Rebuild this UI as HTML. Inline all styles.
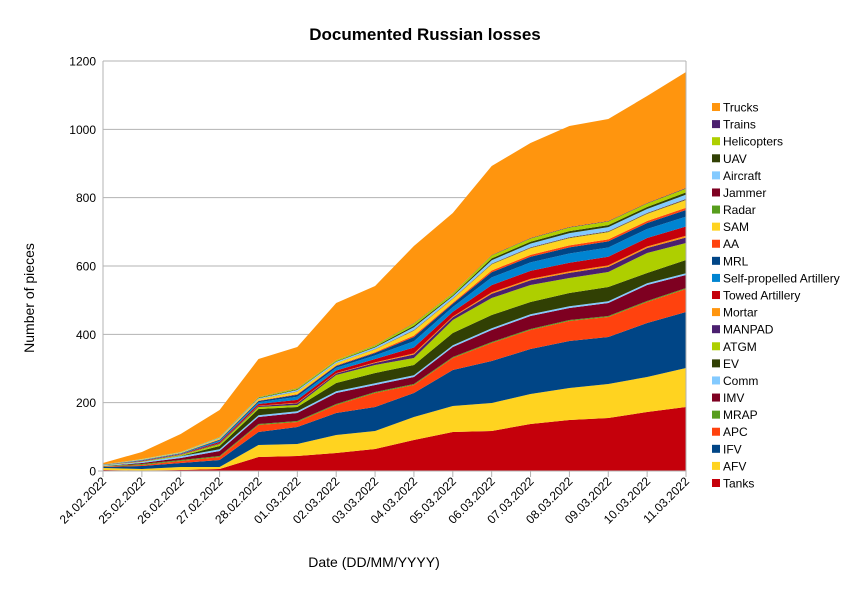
<!DOCTYPE html>
<html><head><meta charset="utf-8"><style>
body{margin:0;background:#fff;width:849px;height:589px;overflow:hidden}
svg{display:block;font-family:"Liberation Sans",sans-serif}
</style></head><body>
<svg id="s" width="849" height="589" xmlns="http://www.w3.org/2000/svg">
<rect width="849" height="589" fill="#fff"/>
<text x="425" y="40" text-anchor="middle" font-size="17" font-weight="bold">Documented Russian losses</text>
<g id="grid"></g>
<g id="areas"></g>
<g id="axes"></g>
<text transform="translate(34,298) rotate(-90)" text-anchor="middle" font-size="14">Number of pieces</text>
<text x="374" y="567" text-anchor="middle" font-size="14">Date (DD/MM/YYYY)</text>
<g id="legend"></g>
</svg>
<script>
var NS="http://www.w3.org/2000/svg";
function el(p,t,a,txt){var e=document.createElementNS(NS,t);for(var k in a)e.setAttribute(k,a[k]);if(txt!=null)e.textContent=txt;document.getElementById(p).appendChild(e);return e;}
var x0=103,x1=686,yb=471,yt=61,n=16,dx=(x1-x0)/15;
for(var i=0;i<=6;i++){var y=yb-i*(yb-yt)/6;el("grid","line",{x1:x0,x2:x1,y1:y,y2:y,stroke:"#b3b3b3","stroke-width":1});
el("axes","text",{x:96,y:y+4.5,"text-anchor":"end","font-size":12},String(i*200));}
var dates=["24.02.2022","25.02.2022","26.02.2022","27.02.2022","28.02.2022","01.03.2022","02.03.2022","03.03.2022","04.03.2022","05.03.2022","06.03.2022","07.03.2022","08.03.2022","09.03.2022","10.03.2022","11.03.2022"];
var tanks=[470,470.5,470,469,457,456,453,449,440,432,431,424,420,418,412,407];
var afv=[468,469,467,467,445,444,435,431,417,406,403,394,388,384,377,368];
var ifv=[467,466,463,460,432,427,413,407,393,370,361,349,341,337,323,312];
var apc=[466.5,465,461,457,425,422,405,393,385,358,343,330,321,317,302,289];
var imv=[466,463,458,451,417,413,393,385,377,347,330,316,308,303,285,275];
var ev=[465.5,462,456,446,409,407,383,373,365,333,315,302,293,287,273,260];
var atgm=[465.3,461.5,455,444,407,405,375,365,358,320,298,285,278,272,253,243];
var oth=[464.5,459,452,437,397,388,360,345,323,293,255,238,227,221,203,188];
var tot=[463,452,434,410,359,347,303,286,246,213,166,143,126,119,96,72];
var base=[];for(i=0;i<n;i++)base.push(yb);
var mrap=apc.map(function(v,i){return Math.max(imv[i],v-1);});
var comm=imv.map(function(v,i){return Math.max(ev[i],v-1.8);});
var bounds=[base,tanks,afv,ifv,apc,mrap,imv,comm,ev,atgm];
var fr=[10,3,17,18,12,4,14,1,1,8,4,7,1];var cum=0;
for(var k=0;k<fr.length;k++){cum+=fr[k];var c=cum/100;bounds.push(atgm.map(function(v,i){return v+(oth[i]-v)*c;}));}
bounds.push(tot);
var names=["Tanks","AFV","IFV","APC","MRAP","IMV","Comm","EV","ATGM","MANPAD","Mortar","Towed Artillery","Self-propelled Artillery","MRL","AA","SAM","Radar","Jammer","Aircraft","UAV","Helicopters","Trains","Trucks"];
var cols=["#c5000b","#ffd320","#004586","#ff420e","#579d1c","#7e0021","#83caff","#314004","#aecf00","#4b1f6f","#ff950e","#c5000b","#0084d1","#004586","#ff420e","#ffd320","#579d1c","#7e0021","#83caff","#314004","#aecf00","#4b1f6f","#ff950e"];
for(var L=0;L<23;L++){var lo=bounds[L],hi=bounds[L+1],pts=[];
for(i=0;i<n;i++)pts.push((x0+i*dx).toFixed(1)+","+hi[i].toFixed(1));
for(i=n-1;i>=0;i--)pts.push((x0+i*dx).toFixed(1)+","+lo[i].toFixed(1));
el("areas","polygon",{points:pts.join(" "),fill:cols[L]});}
el("axes","line",{x1:x0,x2:x0,y1:yt,y2:yb+5,stroke:"#b3b3b3"});
el("axes","line",{x1:x1,x2:x1,y1:yt,y2:yb+5,stroke:"#b3b3b3"});
el("axes","line",{x1:x0-5,x2:x1,y1:yb,y2:yb,stroke:"#b3b3b3"});
for(i=0;i<n;i++){var x=x0+i*dx;el("axes","line",{x1:x,x2:x,y1:yb,y2:yb+6,stroke:"#b3b3b3"});
el("axes","text",{transform:"translate("+(x+4)+",482) rotate(-45)","text-anchor":"end","font-size":12},dates[i]);}
for(L=0;L<23;L++){var y=483-L*17.09;el("legend","rect",{x:712,y:y-4,width:8,height:8,fill:cols[L]});
el("legend","text",{x:723,y:y+4.5,"font-size":12},names[L]);}
</script>
</body></html>
